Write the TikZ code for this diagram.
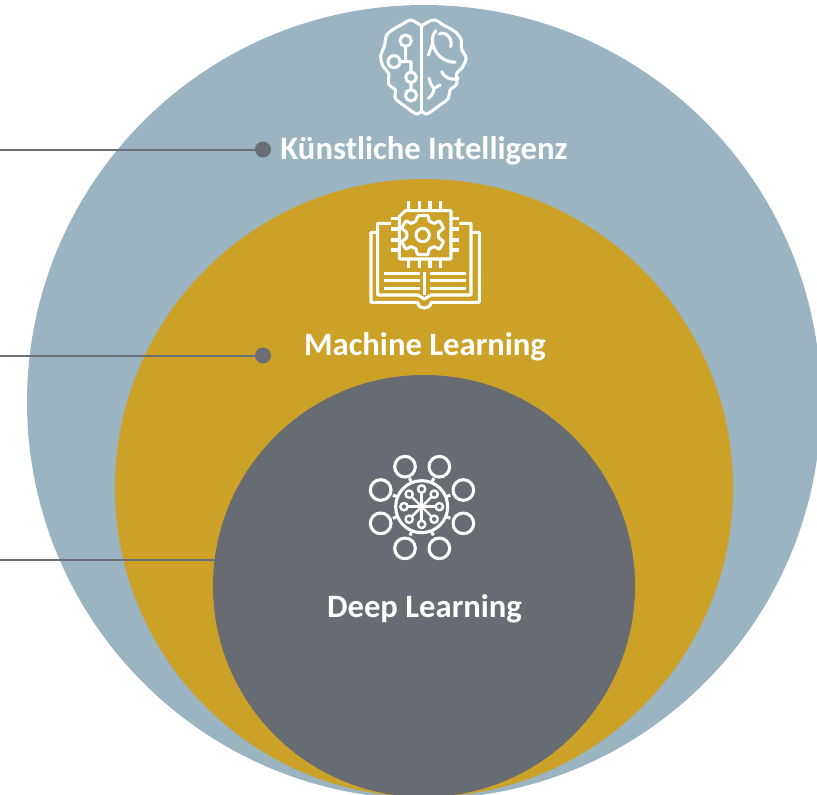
\documentclass[tikz,border=0pt]{standalone}
\usepackage{fontspec}
\setmainfont{Carlito}
\usetikzlibrary{calc}
\definecolor{aiblue}{HTML}{9AB4C2}
\definecolor{mlgold}{HTML}{CBA127}
\definecolor{dlgray}{HTML}{676C73}
\definecolor{leadergray}{HTML}{6B6F75}
\tikzset{
  circledecorate/.style={shape=circle,inner sep=0pt,outer sep=0pt},
  labeldecorate/.style={text=white,inner sep=0pt,font=\fontsize{24.5}{28}\selectfont\bfseries},
  leaderdecorate/.style={-,line width=1.5pt,draw=leadergray},
  icondecorate/.style={draw=white,line width=2.3pt,line join=round},
  zoomed/.style={x=0.25pt,y=-0.25pt}
}
\begin{document}
\begin{tikzpicture}[x=0.75pt,y=-0.75pt]
\useasboundingbox (0,0) rectangle (817,794);
\clip (0,0) rectangle (817,794);
%% circles
\foreach \nodename/\x/\y/\size/\shade in {
  aiCircle/424/402/794/aiblue, mlCircle/424/488/618/mlgold, dlCircle/424/586/422/dlgray} {
  \node (\nodename) at (\x,\y) [circledecorate,fill=\shade,minimum size=\size*0.75pt] {};
}
%% labels
\foreach \nodename/\x/\y/\labeltext in {
  aiLabel/424/151/K\"unstliche Intelligenz, mlLabel/425/347/Machine Learning, dlLabel/424.5/609/Deep Learning} {
  \node (\nodename) at (\x,\y) [labeldecorate] {\labeltext};
}
%% leader lines
\node (aiDot) at (263,149.5) [circledecorate,fill=leadergray,minimum size=12pt] {};
\node (mlDot) at (263,355.5) [circledecorate,fill=leadergray,minimum size=12pt] {};
\coordinate (aiStart) at (0,149.5);
\coordinate (mlStart) at (0,355.5);
\coordinate (dlEnd) at (dlCircle.173);
\coordinate (dlStart) at (dlEnd -| aiStart);
\draw[leaderdecorate] (aiStart) -- (aiDot);
\draw[leaderdecorate] (mlStart) -- (mlDot);
\draw[leaderdecorate] (dlStart) -- (dlEnd);
%% brain icon
\begin{scope}[shift={(360,10)},zoomed,icondecorate,line cap=round]
  \draw plot[smooth,tension=0.6] coordinates {(185,48) (170,38) (150,30) (128,42) (100,58) (80,75) (74,105) (62,140) (70,170) (86,190) (86,222) (106,240) (106,265) (130,285) (150,300) (170,312) (185,303)};
  \draw plot[smooth,tension=0.6] coordinates {(185,48) (200,38) (225,30) (250,45) (285,65) (304,90) (304,115) (318,145) (305,175) (290,190) (290,222) (270,240) (265,265) (240,285) (220,300) (200,312) (185,303)};
  \draw (185,48) -- (185,303);
  \draw (137,92) circle (17) (137,109) -- (137,155);
  \draw (102,155) circle (18) (120,155) -- (153,155) -- (153,186);
  \draw (153,202) circle (16) (153,218) -- (153,239) (153,256) circle (17);
  \draw (205,135) -- (218,100) (228,62) .. controls (218,72) and (216,85) .. (218,100) .. controls (226,135) and (250,155) .. (285,157);
  \draw (238,72) .. controls (255,62) and (280,85) .. (272,110);
  \draw (245,185) .. controls (255,205) and (275,212) .. (295,205);
  \draw (207,205) .. controls (210,218) and (215,228) .. (222,235) -- (240,225) (222,235) .. controls (222,248) and (214,258) .. (205,265);
\end{scope}
%% book and chip icon
\begin{scope}[shift={(361,195)},zoomed,icondecorate]
  \draw (115,65) -- (133,47) -- (270,47) -- (270,192) -- (115,192) -- cycle;
  \foreach \pin in {143,175,207,238} {
    \draw (\pin,18) -- (\pin,47) (\pin,192) -- (\pin,220);
  }
  \foreach \pin in {70,102,135,165} {
    \draw (90,\pin) -- (115,\pin) (270,\pin) -- (295,\pin);
  }
  \draw (185,120) circle (20);
  \draw plot[smooth,tension=0.3] coordinates {(170,62) (200,62) (205,78) (220,85) (235,78) (247,100) (233,112) (233,128) (247,140) (235,162) (220,155) (205,162) (200,178) (170,178) (165,162) (150,155) (135,162) (123,140) (137,128) (137,112) (123,100) (135,78) (150,85) (165,78) (170,62)};
  \draw (90,85) -- (50,85) -- (50,300) -- (170,300) -- (190,312) -- (210,300) -- (330,300) -- (330,85) -- (295,85);
  \draw (50,112) -- (30,112) -- (30,322) -- (170,322) .. controls (172,345) and (208,345) .. (210,322) -- (355,322) -- (355,112) -- (330,112);
  \draw (190,232) -- (190,300);
  \foreach \row in {235,257,280} {
    \draw (70,\row) -- (176,\row) (206,\row) -- (314,\row);
  }
\end{scope}
%% network icon
\begin{scope}[shift={(360,450)},zoomed,icondecorate]
  \coordinate (netCenter) at (185,170);
  \draw (netCenter) circle (78);
  \foreach \x/\y/\angle in {135/50/-113, 238/50/-67, 62/120/-158, 310/120/-22, 62/220/158, 310/220/22, 135/295/112, 238/295/68} {
    \draw (\x,\y) circle (31);
    \draw ($(netCenter)+(\angle:78)$) -- ($(netCenter)+(\angle:93)$);
  }
  \foreach \angle in {0,45,...,315} {
    \draw[line width=1.8pt] (netCenter) -- ($(netCenter)+(\angle:42)$);
    \draw[line width=1.8pt,fill=dlgray] ($(netCenter)+(\angle:53)$) circle (11);
  }
\end{scope}
\end{tikzpicture}
\end{document}
